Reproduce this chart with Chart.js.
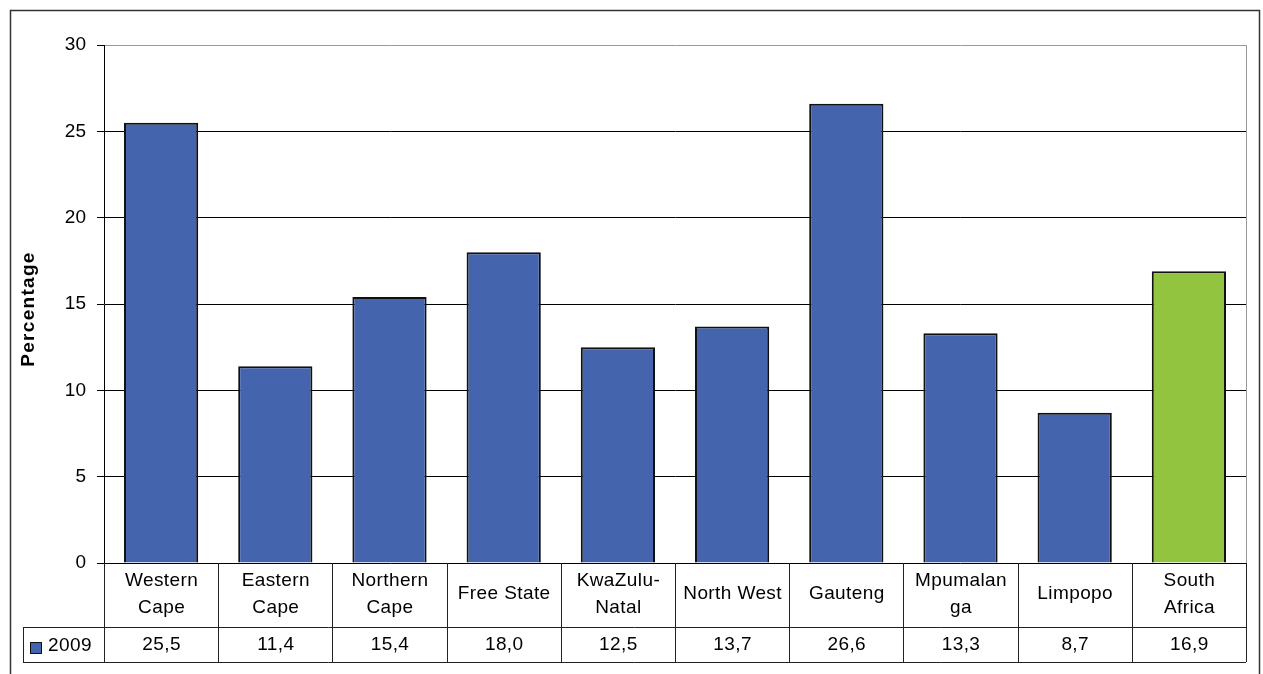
<!DOCTYPE html>
<html>
<head>
<meta charset="utf-8">
<script src="https://cdn.jsdelivr.net/npm/chart.js@4.4.0/dist/chart.umd.min.js"></script>
<style>
  html, body { margin: 0; padding: 0; background: #fff; }
  #wrap { position: relative; width: 1263px; height: 674px; }
</style>
</head>
<body>
<div id="wrap"><canvas id="chart"></canvas></div>
<script>
// provinces (last entry is the national figure)
const provinces = [
    ['Western', 'Cape'], ['Eastern', 'Cape'], ['Northern', 'Cape'], 'Free State',
    ['KwaZulu-', 'Natal'], 'North West', 'Gauteng', ['Mpumalan', 'ga'], 'Limpopo',
    ['South', 'Africa']
];
const values2009 = [25.5, 11.4, 15.4, 18.0, 12.5, 13.7, 26.6, 13.3, 8.7, 16.9];
const seriesName = '2009';
const yTicks = [0, 5, 10, 15, 20, 25, 30];
const yTitle = 'Percentage';

const BLUE = '#4465ae';
const GREEN = '#93c43f';
const FONT = '"Liberation Sans", Arial, sans-serif';

//----------------------------------------------
// DATA TABLE + FRAME
//----------------------------------------------
const tablePlugin = {
    id: 'dataTable',
    afterDraw(chart) {
        const ctx = chart.ctx;
        const area = chart.chartArea;
        const xs = chart.scales.x;
        const n = provinces.length;
        const step = (area.right - area.left) / n;
        const top = area.bottom;
        const rowMid = top + 64;
        const bottom = top + 99;
        const legendLeft = 23;

        ctx.save();

        // outer frame
        ctx.strokeStyle = '#333';
        ctx.lineWidth = 1.5;
        ctx.strokeRect(10.5, 10.5, 1249, 700);

        // plot area right edge
        ctx.strokeStyle = '#999';
        ctx.lineWidth = 1;
        ctx.beginPath();
        ctx.moveTo(Math.round(area.right) + 0.5, area.top);
        ctx.lineTo(Math.round(area.right) + 0.5, area.bottom);
        ctx.stroke();

        // table grid
        ctx.strokeStyle = '#222';
        ctx.beginPath();
        for (let i = 0; i <= n; i++) {
            const x = Math.round(area.left + i * step) + 0.5;
            ctx.moveTo(x, top);
            ctx.lineTo(x, bottom);
        }
        ctx.moveTo(legendLeft + 0.5, rowMid);
        ctx.lineTo(legendLeft + 0.5, bottom);
        ctx.moveTo(legendLeft, Math.round(rowMid) + 0.5);
        ctx.lineTo(area.right, Math.round(rowMid) + 0.5);
        ctx.moveTo(legendLeft, Math.round(bottom) + 0.5);
        ctx.lineTo(area.right, Math.round(bottom) + 0.5);
        ctx.stroke();

        // category names and values
        ctx.fillStyle = '#000';
        ctx.font = '19px ' + FONT;
        ctx.letterSpacing = '0.4px';
        ctx.textAlign = 'center';
        ctx.textBaseline = 'middle';
        for (let i = 0; i < n; i++) {
            const cx = xs.getPixelForValue(i) + 0.5;
            const lines = Array.isArray(provinces[i]) ? provinces[i] : [provinces[i]];
            const mid = top + 31;
            lines.forEach((t, k) => {
                ctx.fillText(t, cx, mid + (k - (lines.length - 1) / 2) * 27);
            });
            ctx.fillText(values2009[i].toFixed(1).replace('.', ','), cx, rowMid + 18);
        }

        // legend key
        ctx.fillStyle = BLUE;
        ctx.fillRect(30, rowMid + 15, 12, 12);
        ctx.strokeStyle = '#111';
        ctx.strokeRect(30.5, rowMid + 15.5, 11, 11);
        ctx.fillStyle = '#000';
        ctx.textAlign = 'left';
        ctx.fillText(seriesName, 48, rowMid + 19);

        // axis title
        ctx.translate(34, (area.top + area.bottom) / 2 + 5);
        ctx.rotate(-Math.PI / 2);
        ctx.textAlign = 'center';
        ctx.textBaseline = 'alphabetic';
        ctx.font = 'bold 19px ' + FONT;
        ctx.letterSpacing = '1.3px';
        ctx.fillText(yTitle, 0, 0);

        ctx.restore();
    }
};

const ctx = document.getElementById('chart').getContext('2d');
const chart = new Chart(ctx, {
    type: 'bar',
    data: {
        labels: provinces,
        datasets: [{
            label: seriesName,
            data: values2009,
            backgroundColor: c => c.dataIndex === provinces.length - 1 ? GREEN : BLUE,
            borderColor: '#111',
            borderWidth: 2,
            barPercentage: 0.65,
            categoryPercentage: 1
        }]
    },
    options: {
        responsive: true,
        maintainAspectRatio: false,
        animation: false,
        layout: {
            padding: { left: 0, top: 45, right: 17, bottom: 111 }
        },
        plugins: {
            legend: { display: false },
            tooltip: { enabled: false }
        },
        scales: {
            x: { display: false },
            y: {
                min: yTicks[0],
                max: yTicks[yTicks.length - 1],
                afterBuildTicks: s => { s.ticks = yTicks.map(v => ({ value: v })); },
                afterFit: s => { s.width = 104; },
                ticks: {
                    color: '#000',
                    padding: 11,
                    font: { family: FONT, size: 19 }
                },
                grid: {
                    color: c => c.tick && c.tick.value === yTicks[yTicks.length - 1] ? '#999' : '#000',
                    tickColor: '#000',
                    tickLength: 7,
                    lineWidth: 1
                },
                border: { color: '#000', width: 1 }
            }
        }
    },
    plugins: [tablePlugin]
});
</script>
</body>
</html>
